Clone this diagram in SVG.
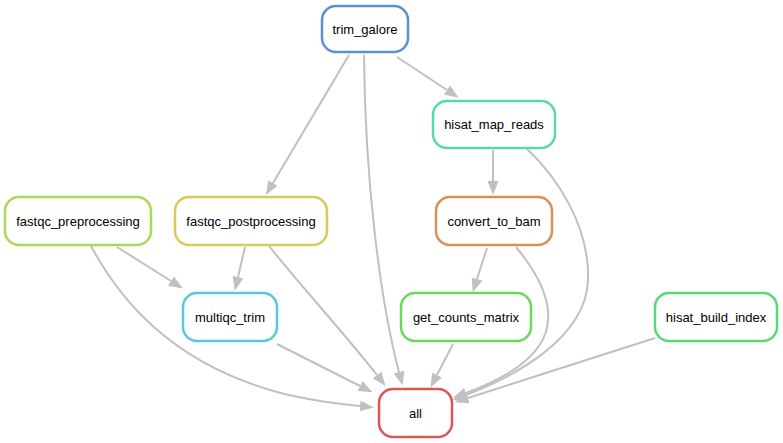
<svg xmlns="http://www.w3.org/2000/svg" width="783" height="443" viewBox="0 0 783 443">
<style>
.n rect{fill:#fff;stroke-width:2.5}
.n text{font-family:"Liberation Sans",Arial,sans-serif;font-size:13px;fill:#000;text-anchor:middle}
.e path{fill:none;stroke:#c0c0c0;stroke-width:2;marker-end:url(#ah)}
</style>
<defs>
<marker id="ah" markerUnits="userSpaceOnUse" markerWidth="14" markerHeight="11" viewBox="0 0 14 11" refX="0" refY="5.5" orient="auto">
<path d="M0,0 L14,5.5 L0,11 z" fill="#c0c0c0"/>
</marker>
</defs>
<rect width="783" height="443" fill="#fff"/>
<g id="edges" class="e">
<path d="M349,55 L273,183"/>
<path d="M364,55 C365,180 380,300 399,372"/>
<path d="M397,57 L447,90"/>
<path d="M493,150 L493,181"/>
<path d="M527,149 C555,175 590,225 588,280 C586,340 510,378 466,395"/>
<path d="M487,248 L477,279"/>
<path d="M516,247 C535,270 550,295 548,320 C546,360 495,382 466,393"/>
<path d="M453,344 L437,375"/>
<path d="M655,338 L468,398"/>
<path d="M117,247 L171,281"/>
<path d="M91,246 C120,300 170,360 270,390 C300,399 330,403 360,406"/>
<path d="M245,247 L238,277"/>
<path d="M269,246 C300,285 350,340 377,375"/>
<path d="M277,344 L360,386"/>
</g>
<g id="trim_galore" class="n"><rect x="322" y="6" width="86" height="46" rx="14" stroke="#5b8fd9"/><text x="365" y="33.5">trim_galore</text></g>
<g id="hisat_map_reads" class="n"><rect x="433" y="101" width="122" height="47" rx="14" stroke="#57d9a8"/><text x="494" y="129">hisat_map_reads</text></g>
<g id="fastqc_preprocessing" class="n"><rect x="5" y="197" width="146" height="48" rx="14" stroke="#a8d957"/><text x="78" y="225.5">fastqc_preprocessing</text></g>
<g id="fastqc_postprocessing" class="n"><rect x="175" y="197" width="152" height="48" rx="14" stroke="#d9c957"/><text x="251" y="225.5">fastqc_postprocessing</text></g>
<g id="convert_to_bam" class="n"><rect x="436" y="197" width="116" height="48" rx="14" stroke="#d98f57"/><text x="494" y="225.5">convert_to_bam</text></g>
<g id="multiqc_trim" class="n"><rect x="183" y="293" width="94" height="48" rx="14" stroke="#57c9d9"/><text x="230" y="321.5">multiqc_trim</text></g>
<g id="get_counts_matrix" class="n"><rect x="401" y="293" width="130" height="48" rx="14" stroke="#6ad957"/><text x="466" y="321.5">get_counts_matrix</text></g>
<g id="hisat_build_index" class="n"><rect x="655" y="293" width="122" height="48" rx="14" stroke="#57d97a"/><text x="716" y="321.5">hisat_build_index</text></g>
<g id="all" class="n"><rect x="379" y="389" width="73" height="48" rx="14" stroke="#d95757"/><text x="415.5" y="417.5">all</text></g>
</svg>
